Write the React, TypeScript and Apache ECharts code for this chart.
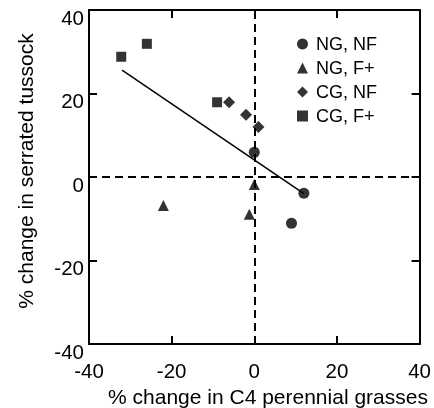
import React, { useEffect, useRef } from "react";
import * as echarts from "echarts";

const ngNfX = [0, 12, 9];
const ngNfY = [5.9, -3.9, -11.1];
const ngFpX = [0, -22, -1.2];
const ngFpY = [-1.8, -6.8, -8.9];
const cgNfX = [-6.1, -2, 1];
const cgNfY = [17.9, 14.9, 12];
const cgFpX = [-32.2, -26, -9];
const cgFpY = [28.8, 31.9, 17.9];
const fitX = [-32, 12];
const fitY = [25.6, -4];

const seriesNames = ["NG, NF", "NG, F+", "CG, NF", "CG, F+"];
const xTitle = "% change in C4 perennial grasses";
const yTitle = "% change in serrated tussock";

const FONT = "'Liberation Sans', Arial, Helvetica, sans-serif";

const zip = (xs: number[], ys: number[]) => xs.map((x, i) => [x, ys[i]]);

export default function App() {
  const ref = useRef<HTMLDivElement>(null);
  useEffect(() => {
    if (!ref.current) return;
    const chart = echarts.init(ref.current, null, { renderer: "svg" });
    const axisCommon = {
      type: "value",
      min: -40,
      max: 40,
      interval: 20,
      splitLine: { show: false },
      axisLine: { show: true, onZero: false, lineStyle: { color: "#000", width: 2 } },
      axisTick: { show: true, inside: true, length: 8, lineStyle: { color: "#000", width: 2 } },
    };
    const scatterCommon = {
      type: "scatter",
      xAxisIndex: 0,
      yAxisIndex: 0,
      itemStyle: { color: "#000" },
      z: 5,
    };
    chart.setOption({
      animation: false,
      grid: { left: 89, top: 10, width: 334, height: 334 },
      xAxis: [
        {
          ...axisCommon,
          position: "bottom",
          axisLabel: {
            show: true,
            color: "#000",
            fontSize: 20.5,
            fontFamily: FONT,
            margin: 19,
            lineHeight: 14,
          },
        },
        {
          ...axisCommon,
          position: "top",
          axisLabel: { show: false },
        },
      ],
      yAxis: [
        {
          ...axisCommon,
          position: "left",
          axisLabel: {
            show: true,
            color: "#000",
            fontSize: 20.5,
            fontFamily: FONT,
            margin: 5,
            verticalAlign: "top",
            lineHeight: 14,
          },
        },
        {
          ...axisCommon,
          position: "right",
          axisLabel: { show: false },
        },
      ],
      legend: {
        orient: "vertical",
        left: 292,
        top: 30,
        itemWidth: 11,
        itemHeight: 11,
        itemGap: 6,
        data: [
          { name: seriesNames[0], icon: "circle" },
          { name: seriesNames[1], icon: "triangle" },
          { name: seriesNames[2], icon: "diamond" },
          { name: seriesNames[3], icon: "rect" },
        ],
        textStyle: {
          color: "#000",
          fontSize: 18,
          fontFamily: FONT,
          padding: [0, 0, 0, 3],
          lineHeight: 16,
        },
        itemStyle: { color: "#000" },
      },
      graphic: [
        {
          type: "text",
          x: 268,
          y: 396,
          style: {
            text: xTitle,
            font: `21px ${FONT}`,
            fill: "#000",
            textAlign: "center",
            textVerticalAlign: "middle",
          },
        },
        {
          type: "text",
          x: 25,
          y: 171,
          rotation: Math.PI / 2,
          style: {
            text: yTitle,
            font: `21px ${FONT}`,
            fill: "#000",
            textAlign: "center",
            textVerticalAlign: "middle",
          },
        },
      ],
      series: [
        {
          ...scatterCommon,
          name: seriesNames[0],
          symbol: "circle",
          symbolSize: 11,
          data: zip(ngNfX, ngNfY),
        },
        {
          ...scatterCommon,
          name: seriesNames[1],
          symbol: "triangle",
          symbolSize: 11,
          data: zip(ngFpX, ngFpY),
        },
        {
          ...scatterCommon,
          name: seriesNames[2],
          symbol: "diamond",
          symbolSize: 12,
          data: zip(cgNfX, cgNfY),
        },
        {
          ...scatterCommon,
          name: seriesNames[3],
          symbol: "rect",
          symbolSize: 10,
          data: zip(cgFpX, cgFpY),
        },
        {
          type: "line",
          name: "fit",
          showSymbol: false,
          symbol: "none",
          lineStyle: { color: "#000", width: 1.5 },
          data: zip(fitX, fitY),
          z: 3,
          markLine: {
            silent: true,
            symbol: "none",
            label: { show: false },
            lineStyle: { color: "#000", width: 2, type: [8, 5] },
            data: [{ xAxis: 0 }, { yAxis: 0 }],
          },
        },
      ],
    });
    return () => chart.dispose();
  }, []);
  return (
    <div
      ref={ref}
      style={{ position: "fixed", left: 0, top: 0, width: 434, height: 408 }}
    />
  );
}
